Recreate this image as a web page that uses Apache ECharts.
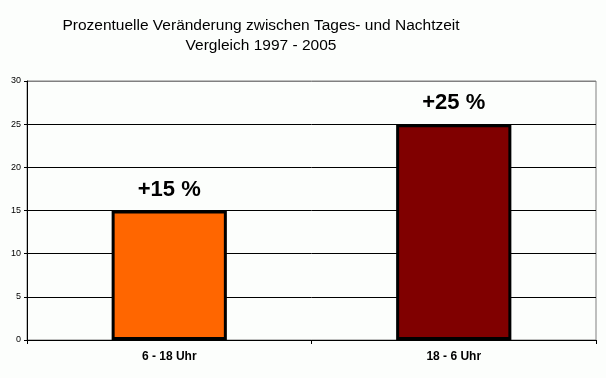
<!DOCTYPE html>
<html>
<head>
<meta charset="utf-8">
<script src="https://cdn.jsdelivr.net/npm/echarts@6/dist/echarts.min.js"></script>
<style>
  html, body { margin: 0; padding: 0; background: #fcfefc; }
  #chart { width: 606px; height: 378px; }
</style>
</head>
<body>
<div id="chart"></div>
<script>
const categories = ['6 - 18 Uhr', '18 - 6 Uhr'];
const values = [15, 25];
const barColors = ['#ff6600', '#800000'];
const barLabels = ['+15 %', '+25 %'];

const chart = echarts.init(document.getElementById('chart'));

const option = {
  backgroundColor: '#fcfefc',
  animation: false,
  title: {
    text: 'Prozentuelle Veränderung zwischen Tages- und Nachtzeit\nVergleich 1997 - 2005',
    left: 256,
    top: 11,
    textAlign: 'center',
    textStyle: {
      fontFamily: 'Liberation Sans, Arial, sans-serif',
      fontSize: 15.5,
      fontWeight: 'normal',
      color: '#000',
      lineHeight: 20,
    },
  },
  grid: {
    left: 27,
    right: 10,
    top: 81,
    bottom: 38,
    show: true,
    borderColor: '#808080',
    borderWidth: 1,
    backgroundColor: 'transparent',
  },
  xAxis: {
    type: 'category',
    data: categories,
    axisLine: { lineStyle: { color: '#000', width: 1 } },
    axisTick: { show: true, length: 4, lineStyle: { color: '#000' } },
    axisLabel: {
      color: '#000',
      fontFamily: 'Liberation Sans, Arial, sans-serif',
      fontSize: 12,
      fontWeight: 'bold',
      margin: 11,
    },
  },
  yAxis: {
    type: 'value',
    min: 0,
    max: 30,
    interval: 5,
    axisLine: { show: true, lineStyle: { color: '#000', width: 1 } },
    axisTick: { show: true, length: 3, lineStyle: { color: '#000' } },
    axisLabel: {
      color: '#000',
      fontFamily: 'Liberation Sans, Arial, sans-serif',
      fontSize: 9,
      margin: 6,
    },
    splitLine: {
      show: true,
      lineStyle: {
        color: ['#000', '#000', '#000', '#000', '#000', '#000', '#808080'],
        width: 1,
      },
    },
  },
  series: [
    {
      type: 'bar',
      barWidth: '40.5%',
      data: values.map((v, i) => ({
        value: v,
        itemStyle: { color: barColors[i] },
        label: { formatter: barLabels[i] },
      })),
      itemStyle: { borderColor: '#000', borderWidth: 3 },
      label: {
        show: true,
        position: 'top',
        distance: 10,
        color: '#000',
        fontFamily: 'Liberation Sans, Arial, sans-serif',
        fontSize: 22,
        fontWeight: 'bold',
      },
    },
  ],
};

chart.setOption(option);
</script>
</body>
</html>
